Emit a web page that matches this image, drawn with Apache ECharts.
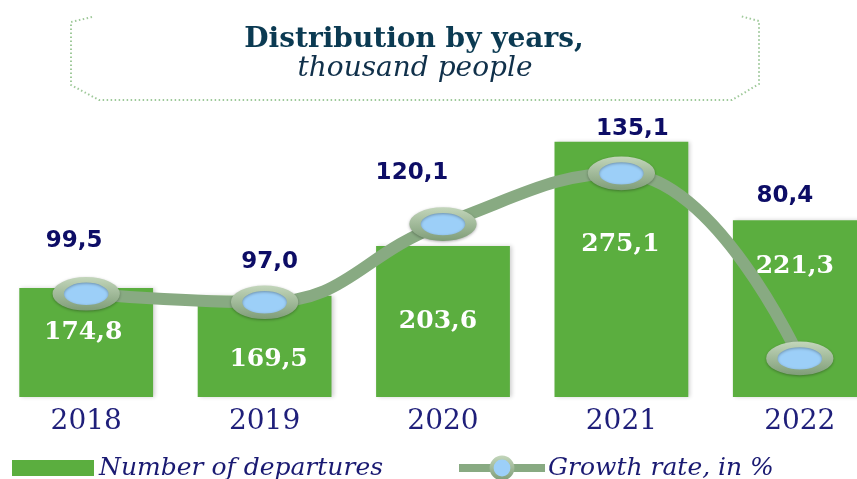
<!DOCTYPE html>
<html>
<head>
<meta charset="utf-8">
<script src="https://cdn.jsdelivr.net/npm/echarts@6/dist/echarts.min.js"></script>
<style>
  html, body { margin: 0; padding: 0; background: #fff; }
  #chart { width: 857px; height: 479px; }
</style>
</head>
<body>
<div id="chart"></div>
<script>
// data
var years = ["2018", "2019", "2020", "2021", "2022"];
var departures = [174.8, 169.5, 203.6, 275.1, 221.3];
var growthRate = [99.5, 97.0, 120.1, 135.1, 80.4];

// label nudges (px), the source places them by hand
var barLabelShift = [[-3, -10], [4, 13], [-5, 0], [-1, -25], [-5, -42]];
var lineLabelShift = [[-12, -53], [5, -40], [-31, -51], [11, -44], [-15, -162]];

function fmt(v) {
  return v.toFixed(1).replace(".", ",");
}

var chart = echarts.init(document.getElementById("chart"));

var barData = departures.map(function (v, i) {
  return { value: v, label: { offset: barLabelShift[i] } };
});
var lineData = growthRate.map(function (v, i) {
  return { value: v, label: { offset: lineLabelShift[i] } };
});

var option = {
  animation: false,
  graphic: [
    {
      type: "polyline",
      shape: {
        points: [[92, 17], [71, 22], [71, 85], [99, 100], [732, 100], [759, 84], [759, 21], [740, 16]]
      },
      style: { fill: null, stroke: "#9fc99a", lineWidth: 2, lineDash: [1.5, 2.5] }
    },
    {
      type: "text",
      style: {
        text: "Distribution by years,",
        x: 414, y: 40,
        textAlign: "center", textVerticalAlign: "middle",
        font: "bold 28px 'DejaVu Serif'",
        fill: "#0b3a52"
      }
    },
    {
      type: "text",
      style: {
        text: "thousand people",
        x: 415, y: 69,
        textAlign: "center", textVerticalAlign: "middle",
        font: "italic 28px 'DejaVu Serif'",
        fill: "#10304a"
      }
    }
  ],
  legend: {
    left: 7,
    top: 450,
    itemWidth: 86,
    itemHeight: 26,
    itemGap: 72,
    textStyle: {
      fontFamily: "DejaVu Serif",
      fontStyle: "italic",
      fontSize: 25,
      color: "#1a1a72",
      padding: [0, 0, 0, -2]
    },
    data: [
      { name: "Number of departures", icon: "path://M0,0L0,0M0,5L82,5L82,21L0,21ZM0,26L0,26" },
      {
        name: "Growth rate, in %",
        itemStyle: { borderWidth: 4 },
        lineStyle: { width: 8, color: "#88aa82" }
      }
    ]
  },
  grid: {
    left: -3,
    right: -32,
    top: 107,
    bottom: 82,
    outerBoundsMode: "none"
  },
  xAxis: {
    type: "category",
    data: years,
    axisLine: { show: false },
    axisTick: { show: false },
    axisLabel: {
      margin: 11,
      fontFamily: "DejaVu Serif",
      fontSize: 28,
      color: "#1f1f7a"
    }
  },
  yAxis: [
    { type: "value", min: 100, max: 299, show: false, splitLine: { show: false } },
    { type: "value", min: 69, max: 154.7, show: false, splitLine: { show: false } }
  ],
  series: [
    {
      name: "Number of departures",
      type: "bar",
      barWidth: "75%",
      data: barData,
      itemStyle: {
        color: "#5bae3f",
        shadowColor: "rgba(0,0,0,0.18)",
        shadowBlur: 4,
        shadowOffsetX: 2
      },
      label: {
        show: true,
        position: "inside",
        formatter: function (p) { return fmt(p.value); },
        fontFamily: "DejaVu Serif",
        fontWeight: "bold",
        fontSize: 25,
        color: "#ffffff"
      }
    },
    {
      name: "Growth rate, in %",
      type: "line",
      yAxisIndex: 1,
      smooth: 0.45,
      data: lineData,
      z: 5,
      symbol: "circle",
      symbolSize: [56, 28],
      lineStyle: { color: "#88aa82", width: 12 },
      itemStyle: {
        color: "#9ccff8",
        borderColor: {
          type: "linear", x: 0, y: 0, x2: 0, y2: 1,
          colorStops: [
            { offset: 0, color: "#c3d6bb" },
            { offset: 1, color: "#7f9d78" }
          ]
        },
        borderWidth: 8,
        shadowColor: "rgba(0,0,0,0.3)",
        shadowBlur: 3,
        shadowOffsetY: 1
      },
      label: {
        show: true,
        position: "inside",
        formatter: function (p) { return fmt(p.value); },
        fontFamily: "DejaVu Sans",
        fontWeight: "bold",
        fontSize: 23,
        color: "#0d0d66"
      }
    }
  ]
};

chart.setOption(option);
</script>
</body>
</html>
